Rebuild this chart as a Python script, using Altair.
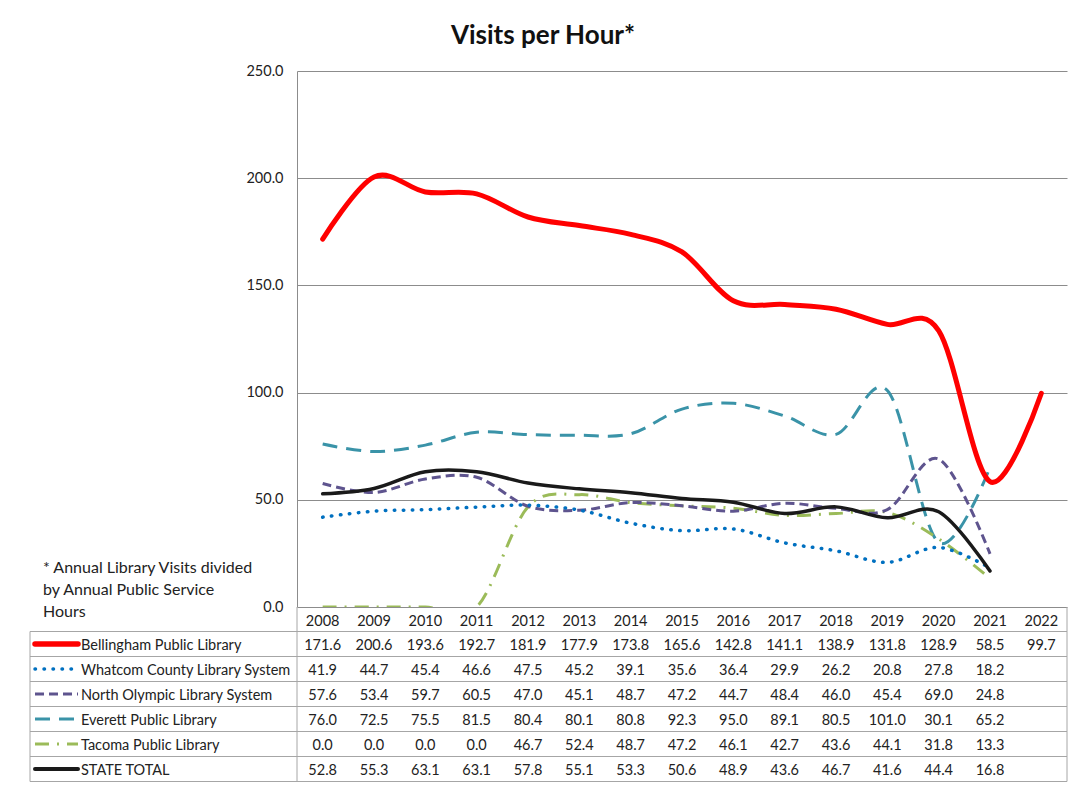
import altair as alt
import pandas as pd

years = [str(y) for y in range(2008, 2023)]
series_names = [
    "Bellingham Public Library",
    "Whatcom County Library System",
    "North Olympic Library System",
    "Everett Public Library",
    "Tacoma Public Library",
    "STATE TOTAL",
]
bellingham = [171.6, 200.6, 193.6, 192.7, 181.9, 177.9, 173.8, 165.6, 142.8, 141.1, 138.9, 131.8, 128.9, 58.5, 99.7]
whatcom = [41.9, 44.7, 45.4, 46.6, 47.5, 45.2, 39.1, 35.6, 36.4, 29.9, 26.2, 20.8, 27.8, 18.2, None]
north_olympic = [57.6, 53.4, 59.7, 60.5, 47.0, 45.1, 48.7, 47.2, 44.7, 48.4, 46.0, 45.4, 69.0, 24.8, None]
everett = [76.0, 72.5, 75.5, 81.5, 80.4, 80.1, 80.8, 92.3, 95.0, 89.1, 80.5, 101.0, 30.1, 65.2, None]
tacoma = [0.0, 0.0, 0.0, 0.0, 46.7, 52.4, 48.7, 47.2, 46.1, 42.7, 43.6, 44.1, 31.8, 13.3, None]
state_total = [52.8, 55.3, 63.1, 63.1, 57.8, 55.1, 53.3, 50.6, 48.9, 43.6, 46.7, 41.6, 44.4, 16.8, None]
y_ticks = [0, 50, 100, 150, 200, 250]

all_values = [bellingham, whatcom, north_olympic, everett, tacoma, state_total]

styles = {
    "Bellingham Public Library": dict(color="#FF0000", strokeWidth=5, strokeCap="round"),
    "Whatcom County Library System": dict(color="#0070C0", strokeWidth=3.5, strokeDash=[0.5, 8.5], strokeCap="round"),
    "North Olympic Library System": dict(color="#5E548E", strokeWidth=3, strokeDash=[9, 5]),
    "Everett Public Library": dict(color="#3A93A8", strokeWidth=3, strokeDash=[15, 9]),
    "Tacoma Public Library": dict(color="#9BBB59", strokeWidth=3, strokeDash=[14, 8, 2, 8]),
    "STATE TOTAL": dict(color="#1A1A1A", strokeWidth=3.5, strokeCap="round"),
}

rows = []
for name, vals in zip(series_names, all_values):
    for yr, v in zip(years, vals):
        if v is not None:
            rows.append({"year": yr, "series": name, "value": v})
df = pd.DataFrame(rows)
years_df = pd.DataFrame({"year": years})

FONT = "Lato"
FS = 14.5
W, H = 770, 536

x_enc = alt.X("year:O", scale=alt.Scale(type="point", domain=years, padding=0.5), axis=None)
y_axis = alt.Axis(values=y_ticks, format=".1f", grid=True, ticks=False, domain=True,
                  labelPadding=14, labelFontSize=FS, labelColor="#222222", labelFont=FONT,
                  gridColor="#8C8C8C", domainColor="#8C8C8C", title=None)
y_val = alt.Y("value:Q", scale=alt.Scale(domain=[0, 250], nice=False), axis=y_axis)

# ---- line layers ----
line_layers = {}
for name in series_names:
    st = dict(styles[name])
    if name == "Tacoma Public Library":
        st["clip"] = True
    line_layers[name] = (
        alt.Chart(df).transform_filter(alt.datum.series == name)
        .mark_line(interpolate="cardinal", **st)
        .encode(x=x_enc, y=y_val)
    )
draw_order = ["Everett Public Library", "Tacoma Public Library", "North Olympic Library System",
              "Whatcom County Library System", "STATE TOTAL", "Bellingham Public Library"]
lines = alt.layer(*[line_layers[n] for n in draw_order])

# ---- table ----
y_row = alt.Y("series:N", scale=alt.Scale(type="point", domain=series_names, range=[573, 698], padding=0), axis=None)
one = years_df.head(1)
GRID = "#A6A6A6"

table_layers = [
    alt.Chart(pd.DataFrame({"series": series_names})).mark_rule(color=GRID, strokeWidth=1, yOffset=-12.5)
    .encode(y=y_row, x=alt.value(-267), x2=alt.value(W)),
    alt.Chart(one).mark_rule(color=GRID, strokeWidth=1)
    .encode(y=alt.value(710.5), x=alt.value(-267), x2=alt.value(W)),
    alt.Chart(one).mark_rule(color=GRID, strokeWidth=1)
    .encode(x=alt.value(-267), y=alt.value(560.5), y2=alt.value(710.5)),
    alt.Chart(one).mark_rule(color=GRID, strokeWidth=1)
    .encode(x=alt.value(0), y=alt.value(H), y2=alt.value(710.5)),
    alt.Chart(one).mark_rule(color=GRID, strokeWidth=1)
    .encode(x=alt.value(W), y=alt.value(H), y2=alt.value(710.5)),
    alt.Chart(years_df).mark_text(font=FONT, fontSize=FS, color="#222222", baseline="middle", dy=1.5)
    .encode(x=x_enc, y=alt.value(549), text="year:N"),
    alt.Chart(df).mark_text(font=FONT, fontSize=FS, color="#222222", baseline="middle", dy=1.5)
    .encode(x=x_enc, y=y_row, text=alt.Text("value:Q", format=".1f")),
]
for name in series_names:
    st = dict(styles[name])
    if name in ("Bellingham Public Library", "STATE TOTAL"):
        st["strokeWidth"] = st["strokeWidth"] + 0.5
    table_layers.append(
        alt.Chart(pd.DataFrame({"series": [name]})).mark_rule(**st)
        .encode(y=y_row, x=alt.value(-262), x2=alt.value(-219))
    )
table_layers.append(
    alt.Chart(pd.DataFrame({"series": series_names})).mark_text(font=FONT, fontSize=FS, color="#222222",
                                                               align="left", baseline="middle", dy=1.5)
    .encode(y=y_row, x=alt.value(-216), text="series:N")
)
table = alt.layer(*table_layers)

# ---- title & footnote ----
title = alt.Chart(one).mark_text(text="Visits per Hour*", font=FONT, fontSize=26,
                                 fontWeight="bold", color="#111111", baseline="middle") \
    .encode(x=alt.value(246), y=alt.value(-35))
foot = alt.Chart(one).mark_text(
    text=["* Annual Library Visits divided", "by Annual Public Service", "Hours"],
    font=FONT, fontSize=16, color="#222222", align="left", baseline="middle", lineHeight=22
).encode(x=alt.value(-254), y=alt.value(497))

chart = alt.layer(lines, table, title, foot).resolve_scale(y="independent").properties(
    width=W, height=H,
    background="white",
    autosize=alt.AutoSizeParams(type="none"),
    padding={"left": 289, "top": 63, "right": 8, "bottom": 180},
).configure_view(stroke=None)

chart.save("out.html", embed_options={"renderer": "svg", "actions": False})
